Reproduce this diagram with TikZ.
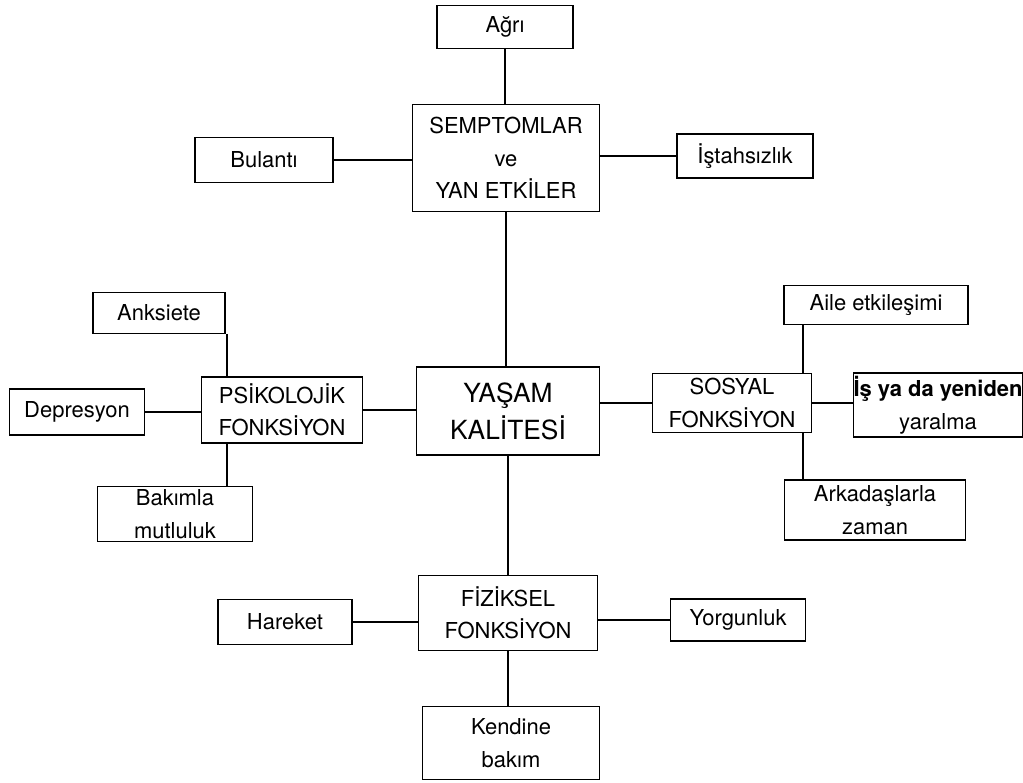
\documentclass[tikz,border=0pt]{standalone}
\usepackage{fontspec}
\setmainfont{TeX Gyre Heros}
\usetikzlibrary{calc}
\tikzset{box/.style={draw,line width=1pt,align=center,inner sep=0pt,font=\fontsize{12.5}{18.5}\selectfont},big/.style={box,font=\fontsize{15}{21}\selectfont},link/.style={line width=1pt}}

\begin{document}
\begin{tikzpicture}[x=0.02cm,y=-0.02cm]
  \useasboundingbox (0,0) rectangle (1023,783);
  \node[box,minimum width=2.72cm,minimum height=0.86cm] (agri) at (505,27) {Ağrı};
  \node[box,minimum width=3.74cm,minimum height=2.14cm] (semp) at (506,158) {SEMPTOMLAR\\ve\\YAN ETKİLER};
  \node[box,minimum width=2.76cm,minimum height=0.9cm] (bul) at (264,160) {Bulantı};
  \node[box,minimum width=2.72cm,minimum height=0.88cm] (ist) at (745,156) {İştahsızlık};
  \node[big,minimum width=3.66cm,minimum height=1.76cm] (yas) at (508,411) {YAŞAM\\KALİTESİ};
  \node[box,minimum width=3.22cm,minimum height=1.32cm] (psi) at (282,410) {PSİKOLOJİK\\FONKSİYON};
  \node[box,minimum width=2.64cm,minimum height=0.82cm] (anks) at (159,313) {Anksiete};
  \node[box,minimum width=2.7cm,minimum height=0.92cm] (dep) at (77,412) {Depresyon};
  \node[box,minimum width=3.1cm,minimum height=1.1cm] (bak) at (175,514) {Bakımla\\mutluluk};
  \node[box,minimum width=3.18cm,minimum height=1.18cm] (sos) at (732,403) {SOSYAL\\FONKSİYON};
  \node[box,minimum width=3.68cm,minimum height=0.78cm] (aile) at (876,305) {Aile etkileşimi};
  \node[box,minimum width=3.32cm,minimum height=1.28cm] (is) at (938,405) {\textbf{İş ya da yeniden}\\yaralma};
  \node[box,minimum width=3.62cm,minimum height=1.2cm] (ark) at (875,510) {Arkadaşlarla\\zaman};
  \node[box,minimum width=3.58cm,minimum height=1.5cm] (fiz) at (508,613) {FİZİKSEL\\FONKSİYON};
  \node[box,minimum width=2.68cm,minimum height=0.9cm] (har) at (285,622) {Hareket};
  \node[box,minimum width=2.7cm,minimum height=0.84cm] (yor) at (738,620) {Yorgunluk};
  \node[box,minimum width=3.54cm,minimum height=1.46cm] (ken) at (511,743) {Kendine\\bakım};
  \draw[link] (agri.south) edge (agri.south |- semp.north)
  (bul.east) edge (bul.east -| semp.west)
  (ist.west) edge (ist.west -| semp.east)
  (semp.south) edge (semp.south |- yas.north)
  (psi.east) edge (psi.east -| yas.west)
  (sos.west) edge (sos.west -| yas.east)
  (yas.south) edge (yas.south |- fiz.north);
  \draw[link] (dep.east) edge (dep.east -| psi.west)
  ([xshift=-1.1cm]psi.north) edge ([xshift=-1.1cm]psi.north |- anks.south)
  ([xshift=-1.1cm]psi.south) edge ([xshift=-1.1cm]psi.south |- bak.north);
  \draw[link] (sos.east) edge (sos.east -| is.west)
  ([xshift=1.42cm]sos.north) edge ([xshift=1.42cm]sos.north |- aile.south)
  ([xshift=1.42cm]sos.south) edge ([xshift=1.42cm]sos.south |- ark.north);
  \draw[link] (har.east) edge (har.east -| fiz.west)
  (yor.west) edge (yor.west -| fiz.east)
  (fiz.south) edge (fiz.south |- ken.north);
\end{tikzpicture}
\end{document}
